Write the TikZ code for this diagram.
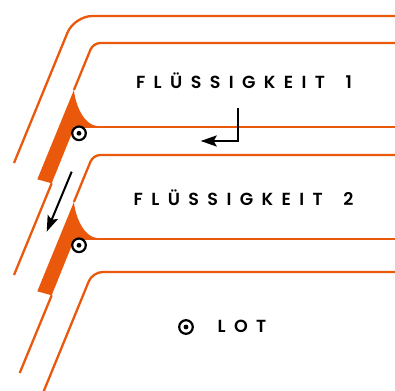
\documentclass[tikz,border=0pt]{standalone}
\usepackage{fontspec}
\newfontfamily\labfont{Poppins}[UprightFont=* SemiBold, BoldFont=* SemiBold, LetterSpace=48]
\usetikzlibrary{arrows.meta}
\definecolor{wallorange}{RGB}{234,88,12}
\tikzset{
  wall/.style={draw=wallorange, line width=2.3pt},
  dotmark/.style={circle, draw=black, line width=2.2pt, fill=white, minimum size=13.6pt, inner sep=0pt},
  arr/.style={draw=black, line width=2pt, -{Stealth[length=16pt,width=11pt,inset=3pt]}},
  lab/.style={font=\labfont\fontsize{17.5}{19}\selectfont, text=black, inner sep=0pt, anchor=base}
}
\begin{document}
\begin{tikzpicture}[x=1pt,y=-1pt]
\useasboundingbox (0,0) rectangle (395,390);
\clip (0,0) rectangle (395,390);
% outer top wall line
\draw[wall, rounded corners=18pt] (397,16) -- (74.3,16) -- (14,163);
% repeated units
\foreach \d in {0,112}{
  \fill[wallorange] (73.9,90+\d) -- (37.3,179.3+\d) -- (51.7,183.3+\d) -- (74.8,126+\d)
     -- (97,126+\d) .. controls (86,125.5+\d) and (76,109+\d) .. (73.9,90+\d) -- cycle;
  \draw[wall, rounded corners=7pt] (397,43+\d) -- (93.2,43+\d) -- (73.9,90+\d);
  \draw[wall] (74.8,127+\d) -- (397,127+\d);
}
\draw[wall] (51.7,183.3) -- (14,275);
\draw[wall] (51.7,295.3) -- (19.7,373);
% bottom wall line
\draw[wall, rounded corners=10pt] (397,272) -- (92.6,272) -- (43.4,392);
% markers
\node[dotmark] (m1) at (79,133.3) {};
\fill (m1.center) circle (2.4);
\node[dotmark] (m2) at (79,245.3) {};
\fill (m2.center) circle (2.4);
\node[dotmark] (m3) at (186,327) {};
\fill (m3.center) circle (2.4);
% labels
\node[lab] (t1) at (244,89) {FLÜSSIGKEIT\hspace{8pt} 1};
\node[lab] (t2) at (243.5,205.5) {FLÜSSIGKEIT\hspace{8pt} 2};
\node[lab] (t3) at (242,332.5) {LOT};
% arrows
\coordinate (a1s) at (238.3,108);
\coordinate (a1e) at (200.7,141);
\draw[arr] (a1s) |- (a1e);
\coordinate (a2s) at (71.7,171.7);
\coordinate (a2e) at (46.7,231.7);
\draw[arr] (a2s) -- (a2e);
\end{tikzpicture}
\end{document}
